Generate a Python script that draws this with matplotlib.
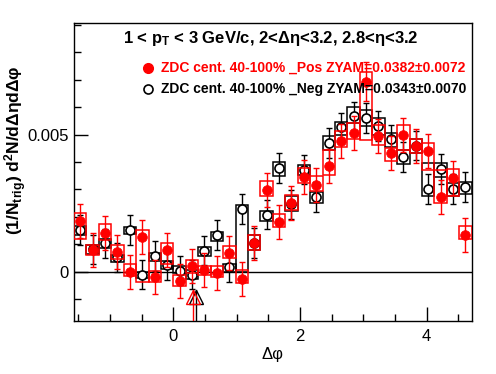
import numpy as np
import matplotlib
matplotlib.use('Agg')
import matplotlib.pyplot as plt
from matplotlib.patches import Rectangle
from matplotlib.ticker import FixedLocator, FuncFormatter

plt.rcParams['font.family'] = ['Liberation Sans', 'DejaVu Sans']
plt.rcParams['mathtext.fontset'] = 'custom'
plt.rcParams['mathtext.rm'] = 'Liberation Sans'
plt.rcParams['mathtext.bf'] = 'Liberation Sans:bold'
plt.rcParams['mathtext.it'] = 'Liberation Sans:italic'

# ---------------- data (values in units of 1e-3) ----------------
dphi_min, dphi_max, nbins = -np.pi / 2, 3 * np.pi / 2, 32

pos_val = [1.86, 0.80, 1.41, 0.70, -0.01, 1.25, -0.21, 0.80, -0.35, 0.19, 0.07, -0.05,
           0.68, -0.27, 1.04, 2.99, 1.82, 2.50, 3.47, 3.16, 3.85, 4.76, 5.06, 6.93,
           4.96, 4.31, 5.00, 4.60, 4.39, 2.73, 3.42, 1.35]
pos_err = [0.62] * 23 + [0.70] + [0.62] * 8
pos_sys_lo = [1.20, 0.62, 1.17, 0.46, -0.15, -0.38, -0.38, 0.28, -0.54, -0.05, -0.12, -0.20,
              0.49, -0.41, 0.80, 2.75, 1.63, 2.26, 3.24, 2.93, 3.54, 4.55, 4.82, 4.80,
              4.63, 4.03, 4.43, 4.31, 3.72, 2.51, 2.75, 1.19]
pos_sys_hi = [2.14, 0.99, 1.72, 0.99, 0.29, 1.53, 0.01, 1.04, -0.11, 0.44, 0.22, 0.22,
              0.92, 0.05, 1.35, 3.29, 2.12, 2.80, 3.78, 3.50, 4.45, 5.12, 5.42, 7.30,
              5.36, 4.51, 5.36, 4.85, 4.69, 3.72, 3.75, 1.65]

neg_val = [1.53, 0.81, 1.03, 0.52, 1.53, -0.11, 0.56, 0.23, 0.04, -0.11, 0.77, 1.33,
           0.17, 2.29, 1.05, 2.08, 3.78, 2.45, 3.72, 2.72, 4.70, 5.26, 5.66, 5.61,
           5.32, 4.82, 4.19, 4.60, 3.02, 3.75, 3.02, 3.09]
neg_err = [0.54] * 32
neg_sys_lo = [1.35, 0.65, 0.86, 0.37, 1.37, -0.23, 0.38, 0.11, -0.05, -0.27, 0.56, 1.10,
              -0.01, 0.00, 0.80, 1.84, 3.50, 2.20, 3.54, 2.50, 4.45, 5.00, 5.43, 5.30,
              5.00, 4.55, 3.91, 4.31, 2.76, 3.47, 2.77, 2.85]
neg_sys_hi = [1.65, 0.97, 1.20, 0.62, 1.63, -0.03, 0.68, 0.38, 0.19, 0.07, 0.90, 1.45,
              0.29, 2.43, 1.35, 2.20, 3.99, 2.75, 3.90, 2.89, 4.96, 5.45, 5.99, 5.91,
              5.61, 5.06, 4.45, 4.85, 3.96, 3.96, 3.24, 3.26]

# ZYAM minimum position markers
zyam_x = {'pos': 0.304, 'neg': 0.35}
zyam_y = -0.91  # 1e-3

scale = 1e-3
title = r"1 < $\mathbf{p}_{\mathbf{T}}$ < 3 GeV/c, 2<Δη<3.2, 2.8<η<3.2"
leg_pos = "ZDC cent. 40-100% _Pos ZYAM=0.0382±0.0072"
leg_neg = "ZDC cent. 40-100% _Neg ZYAM=0.0343±0.0070"

# ---------------- figure ----------------
W, H = 496, 374
fig = plt.figure(figsize=(W / 100, H / 100), dpi=100)
ax = fig.add_axes([74 / W, 1 - 321 / H, 397.7 / W, 298.3 / H])

edges = np.linspace(dphi_min, dphi_max, nbins + 1)
centers = 0.5 * (edges[:-1] + edges[1:])
bw = edges[1] - edges[0]


def draw_series(val, err, lo, hi, color, filled, z):
    val = np.asarray(val) * scale
    err = np.asarray(err) * scale
    lo = np.asarray(lo) * scale
    hi = np.asarray(hi) * scale
    for i in range(nbins):
        ax.add_patch(Rectangle((edges[i], lo[i]), bw, hi[i] - lo[i], fill=False,
                               ec=color, lw=1.1, zorder=z))
    ax.errorbar(centers, val, yerr=err, fmt='none', ecolor=color, elinewidth=1.0,
                capsize=2.5, capthick=1.0, zorder=z + 0.1)
    if filled:
        ax.plot(centers, val, 'o', ms=7, mfc=color, mec=color, mew=0.5, ls='none', zorder=z + 0.2)
    else:
        ax.plot(centers, val, 'o', ms=6.5, mfc='white', mec=color, mew=1.2, ls='none', zorder=z + 0.2)


ax.axhline(0, color='black', lw=1.0, zorder=1)
draw_series(neg_val, neg_err, neg_sys_lo, neg_sys_hi, 'black', False, 2)
draw_series(pos_val, pos_err, pos_sys_lo, pos_sys_hi, 'red', True, 3)

ymin, ymax = -1.8e-3, 9.08e-3
for key, col, z in (('neg', 'black', 4), ('pos', 'red', 4.5)):
    ax.plot([zyam_x[key], zyam_x[key]], [ymin, (zyam_y + 0.25) * scale], color=col, lw=1.0, zorder=z)
    ax.plot([zyam_x[key]], [zyam_y * scale], '^', ms=9.5, mfc='none', mec=col, mew=1.0, zorder=z)

ax.set_xlim(dphi_min, dphi_max)
ax.set_ylim(ymin, ymax)

ax.xaxis.set_major_locator(FixedLocator([0, 2, 4]))
ax.xaxis.set_minor_locator(FixedLocator([-1.5, -1.0, -0.5, 0.5, 1.0, 1.5, 2.5, 3.0, 3.5, 4.5]))
ax.yaxis.set_major_locator(FixedLocator([0, 0.005]))
ax.yaxis.set_minor_locator(FixedLocator([v * 1e-3 for v in (-1, 1, 2, 3, 4, 6, 7, 8, 9)]))
ax.yaxis.set_major_formatter(FuncFormatter(lambda v, p: '0' if abs(v) < 1e-9 else f'{v:g}'))
ax.tick_params(axis='both', which='major', direction='in', length=10, width=1.0,
               labelsize=12, top=False, right=False)
ax.tick_params(axis='both', which='minor', direction='in', length=5, width=1.0,
               top=False, right=False)
ax.tick_params(axis='x', which='major', pad=6)
ax.tick_params(axis='y', which='major', pad=4)
for s in ax.spines.values():
    s.set_linewidth(1.0)

ax.set_xlabel('Δφ', fontsize=12, labelpad=2)
fig.text(16 / W, 1 - 150 / H,
         r"(1/N$_{\mathbf{trig}}$) d$^{\mathbf{2}}$N/dΔηdΔφ",
         rotation=90, ha='center', va='center', fontsize=12.5, fontweight='bold')

fig.text(271 / W, 1 - 38 / H, title, ha='center', va='center', fontsize=12, fontweight='bold')

# legend
fig.lines.append(plt.Line2D([148 / W], [1 - 68 / H], marker='o', ms=7, mfc='red', mec='red',
                            ls='none', transform=fig.transFigure))
fig.lines.append(plt.Line2D([148 / W], [1 - 89 / H], marker='o', ms=6.5, mfc='white', mec='black',
                            mew=1.2, ls='none', transform=fig.transFigure))
fig.text(161 / W, 1 - 68 / H, leg_pos, ha='left', va='center', fontsize=10, fontweight='bold', color='red')
fig.text(161 / W, 1 - 89 / H, leg_neg, ha='left', va='center', fontsize=10, fontweight='bold', color='black')

fig.savefig('out.png', dpi=100)
